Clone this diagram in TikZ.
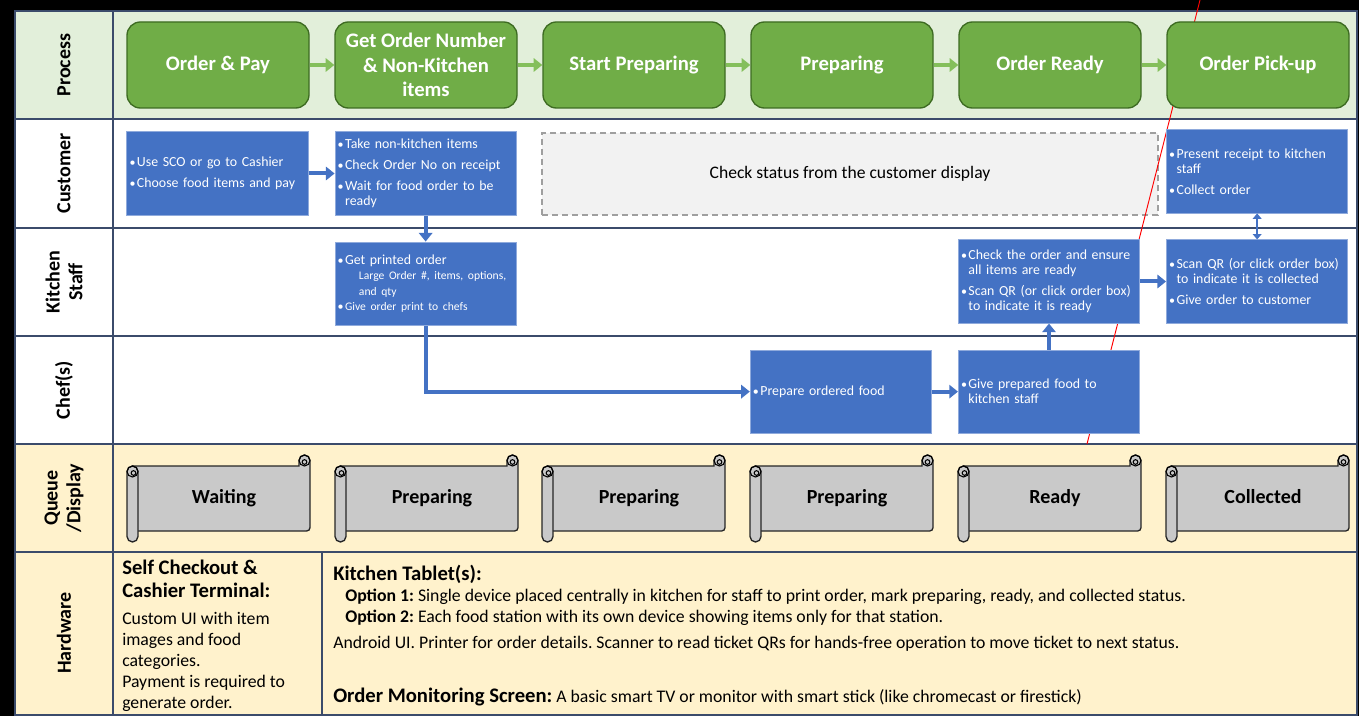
\documentclass[tikz,border=0pt]{standalone}
\usepackage{fontspec}
\setmainfont{Carlito}
\usetikzlibrary{arrows.meta,positioning}
\frenchspacing

\definecolor{lanegreen}{HTML}{E2EFDA}
\definecolor{laneyellow}{HTML}{FFF2CC}
\definecolor{gridblue}{HTML}{3B4B6B}
\definecolor{stepgreen}{HTML}{70AD47}
\definecolor{stepedge}{HTML}{3D6B22}
\definecolor{arrowgreen}{HTML}{84BF5B}
\definecolor{taskblue}{HTML}{4472C4}
\definecolor{taskedge}{HTML}{8FAADC}
\definecolor{scrollgray}{HTML}{C9C9C9}
\definecolor{waitgray}{HTML}{F2F2F2}

\newcommand\bul{\makebox[5.6pt][l]{\fontsize{9}{9}\selectfont•}}
\newcommand\ind{\hspace*{5.6pt}}

\tikzset{
  grid/.style={draw=gridblue,line width=1.4pt},
  lanehead/.style={rotate=90,font=\fontsize{15}{17}\selectfont\bfseries,align=center},
  stepbox/.style={rectangle,draw=stepedge,line width=1pt,rounded corners=10pt,fill=stepgreen,
    text=white,font=\fontsize{15.5}{18.4}\selectfont\bfseries,minimum width=136.5pt,minimum height=64.5pt,align=center},
  taskbox/.style={rectangle,draw=taskedge,line width=0.6pt,fill=taskblue,text=white,
    font=\fontsize{10.4}{11.3}\selectfont,minimum width=136pt,minimum height=62.5pt,text width=132pt,inner xsep=2pt,align=left},
  waitbox/.style={rectangle,draw=gray!75,dashed,dash pattern=on 4.5pt off 3pt,line width=1pt,fill=waitgray,
    font=\fontsize{13.2}{15}\selectfont,minimum width=462pt,minimum height=61.5pt},
  scrollbody/.style={fill=scrollgray,draw=black!85,line width=1pt},
  scrolltext/.style={font=\fontsize{15}{17}\selectfont\bfseries,text height=10.5pt,text depth=3pt},
  hwhead/.style={font=\fontsize{15.5}{17.25}\selectfont\bfseries,align=left,inner sep=0pt},
  hwbody/.style={font=\fontsize{13.3}{15.75}\selectfont,align=left,inner sep=0pt},
  hwline/.style={font=\fontsize{13.3}{15}\selectfont,anchor=west,inner sep=0pt},
  flow/.style={->,line width=3pt,draw=taskblue,>={Triangle[length=6.5pt,width=10pt]}},
  twoway/.style={<->,line width=1.5pt,draw=taskblue,>={Triangle[length=4pt,width=6.5pt]}},
  stepflow/.style={->,line width=3.5pt,draw=arrowgreen,>={Triangle[length=6.5pt,width=10pt]}},
}

\begin{document}
\begin{tikzpicture}[x=0.75pt,y=-0.75pt,node distance=19.5pt]
  \useasboundingbox (0,0) rectangle (1359,716);
  % background and lanes
  \fill[black] (0,0) rectangle (1359,716);
  \fill[white] (15,11) rectangle (1357,715);
  \fill[lanegreen] (15,11) rectangle (1357,119);
  \fill[laneyellow] (15,444) rectangle (1357,715);
  % grid
  \draw[grid] (15,11) rectangle (1357,715);
  \foreach \y in {119,228,336,444,552} \draw[grid] (15,\y) -- (1357,\y);
  \draw[grid] (113,11) -- (113,715);
  \draw[grid] (322,552) -- (322,715);

  % lane titles
  \node[lanehead] (hProc) at (64,65) {Process};
  \node[lanehead] (hCust) at (64,173.5) {Customer};
  \node[lanehead] (hKit) at (64,282) {Kitchen\\Staff};
  \node[lanehead] (hChef) at (64,390) {Chef(s)};
  \node[lanehead] (hQueue) at (64,498) {Queue\\/Display};
  \node[lanehead] (hHard) at (64,633) {Hardware};

  % customer
  \node[taskbox] (c1) at (217.5,173.5) {\bul Use SCO or go to Cashier\\[4.5pt]\bul Choose food items and pay};
  \node[taskbox,right=of c1] (c2) {\bul Take non-kitchen items\\[4.5pt]\bul Check Order No on receipt\\[4.5pt]\bul Wait for food order to be\\\ind ready};
  \node[waitbox] (c3) at (850,174) {Check status from the customer display};

  % stray red mark
  \coordinate (redA) at (1200,0);
  \coordinate (redB) at (1087,444);
  \draw[red,line width=0.7pt] (redA) -- (redB);

  % process steps
  \node[stepbox] (g1) at (218,65) {Order \& Pay};
  \node[stepbox,right=18.5pt of g1] (g2) {Get Order Number\\\& Non-Kitchen\\items};
  \node[stepbox,right=18.5pt of g2] (g3) {Start Preparing};
  \node[stepbox,right=18.5pt of g3] (g4) {Preparing};
  \node[stepbox,right=18.5pt of g4] (g5) {Order Ready};
  \node[stepbox,right=18.5pt of g5] (g6) {Order Pick-up};
  \foreach \a/\b in {g1/g2,g2/g3,g3/g4,g4/g5,g5/g6}
    \draw[stepflow] (\a) -- (\b);

  % kitchen staff
  \node[taskbox,below=of c2] (k1) {\bul Get printed order\\
    \hspace*{16pt}{\fontsize{8.7}{10}\selectfont Large Order \#, items, options,}\\
    \hspace*{16pt}{\fontsize{8.7}{10}\selectfont and qty}\\
    {\fontsize{8.7}{10}\selectfont\bul Give order print to chefs}};
  \node[taskbox] (k2) at (1049,281.5) {\bul Check the order and ensure\\\ind all items are ready\\[4.5pt]\bul Scan QR (or click order box)\\\ind to indicate it is ready};
  \node[taskbox,right=of k2] (k3) {\bul Scan QR (or click order box)\\\ind to indicate it is collected\\[4.5pt]\bul Give order to customer};
  \node[taskbox,above=of k3] (c4) {\bul Present receipt to kitchen\\\ind staff\\[4.5pt]\bul Collect order};

  % chefs
  \node[taskbox,below=of k2] (f2) {\bul Give prepared food to\\\ind kitchen staff};
  \node[taskbox,left=of f2] (f1) {\bul Prepare ordered food};

  % flow
  \draw[flow] (c1) -- (c2);
  \draw[flow] (c2) -- (k1);
  \draw[flow] (k1.south) |- (f1.west);
  \draw[flow] (f1) -- (f2);
  \draw[flow] (f2) -- (k2);
  \draw[flow] (k2) -- (k3);
  \draw[twoway] (c4) -- (k3);

  % queue display scrolls
  \foreach \qx/\qlabel [count=\qi] in {127/Waiting,335/Preparing,542/Preparing,750/Preparing,958/Ready,1166/Collected}{
    \begin{scope}[shift={(\qx,455)}]
      \filldraw[scrollbody] (5.5,11) -- (172,11) -- (172,5.5) arc[start angle=180,end angle=360,radius=5.5]
        {[rounded corners=2.5pt] -- (183,76) -- (100,76)} -- (5.5,76) -- cycle;
      \draw[line width=0.8pt] (177.5,5.5) circle[radius=5.5];
      \draw[line width=0.8pt] (177.5,7) circle[radius=2.3];
      \filldraw[scrollbody] (0,16.5) arc[start angle=180,end angle=360,radius=5.5]
        -- (11,81.5) arc[start angle=0,end angle=180,radius=5.5] -- cycle;
      \draw[line width=0.8pt] (5.5,16.5) circle[radius=5.5];
      \draw[line width=0.8pt] (6.5,18) circle[radius=2.3];
    \end{scope}
    \node[scrolltext] (q\qi) at (\qx+97,498.5) {\qlabel};
  }

  % hardware
  \node[hwhead,anchor=north west] (hwA) at (122,560) {Self Checkout \&\\Cashier Terminal:};
  \node[hwbody,anchor=north west] (hwB) at ([yshift=-10.5pt]hwA.south west) {Custom UI with item\\images and food\\categories.\\Payment is required to\\generate order.};
  \node[hwhead,anchor=west] (hwC) at (333,574) {Kitchen Tablet(s):};
  \node[hwline] (hwD) at (345,597) {\textbf{Option 1:} Single device placed centrally in kitchen for staff to print order, mark preparing, ready, and collected status.};
  \node[hwline] (hwE) at (345,618) {\textbf{Option 2:} Each food station with its own device showing items only for that station.};
  \node[hwline] (hwF) at (333,644) {Android UI. Printer for order details. Scanner to read ticket QRs for hands-free operation to move ticket to next status.};
  \node[hwline] (hwG) at (333,697) {{\fontsize{15.5}{17}\selectfont\bfseries Order Monitoring Screen:} A basic smart TV or monitor with smart stick (like chromecast or firestick)};
\end{tikzpicture}
\end{document}
